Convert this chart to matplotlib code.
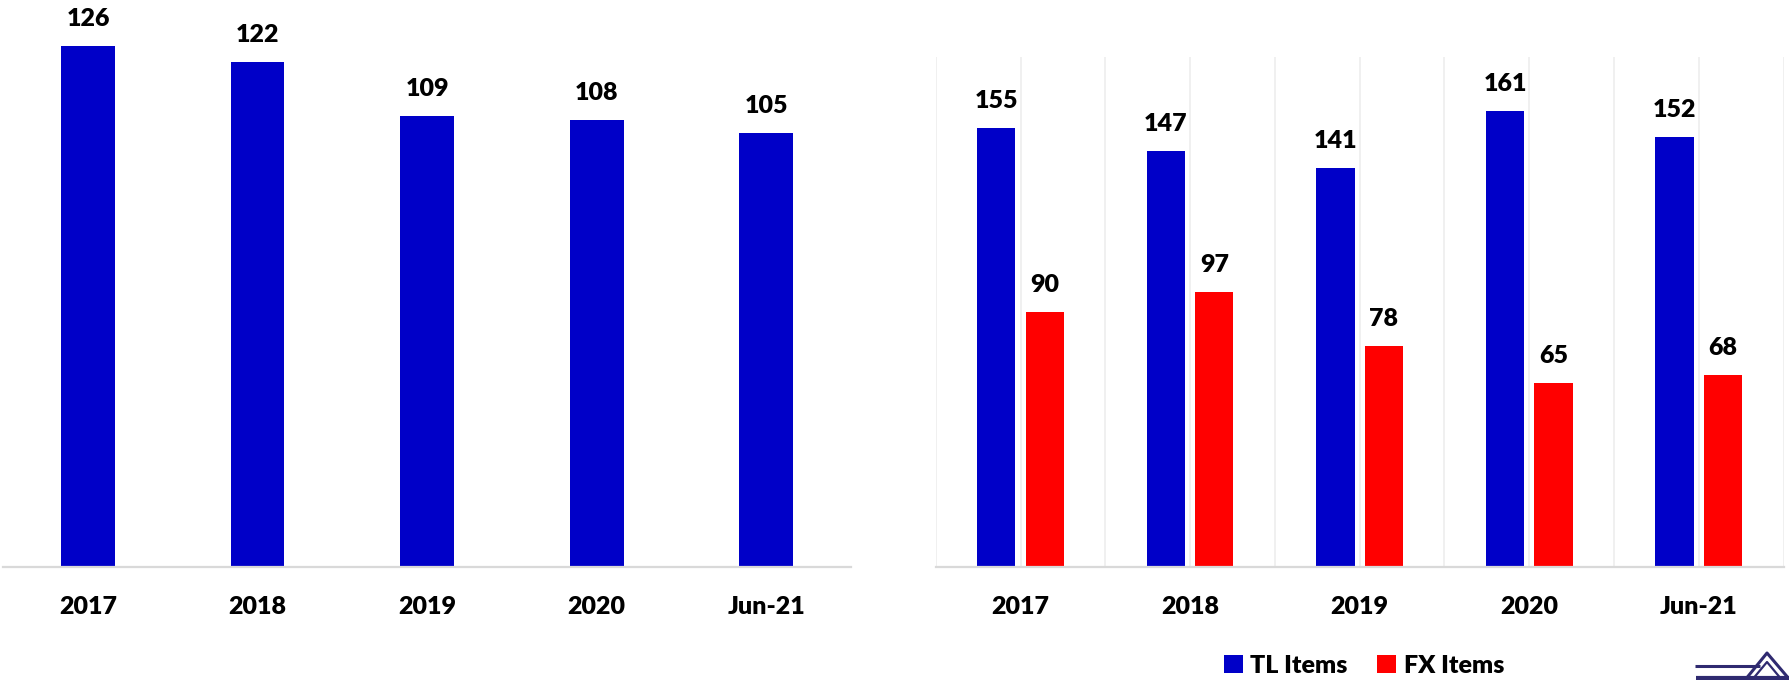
import matplotlib
matplotlib.use("Agg")
import matplotlib.pyplot as plt
from matplotlib.lines import Line2D
from matplotlib.patches import Patch
import numpy as np

categories = ["2017", "2018", "2019", "2020", "Jun-21"]
total_values = [126, 122, 109, 108, 105]
tl_items = [155, 147, 141, 161, 152]
fx_items = [90, 97, 78, 65, 68]
legend_labels = ["TL Items", "FX Items"]

BLUE = "#0000C8"
RED = "#FF0000"
AXIS_GREY = "#D9D9D9"
GRID_GREY = "#EDEDED"
WEIGHT = "heavy"

plt.rcParams["font.family"] = ["Lato", "DejaVu Sans"]
plt.rcParams["font.weight"] = WEIGHT

W, H = 1790, 680
fig = plt.figure(figsize=(W / 100, H / 100), dpi=100)

def px_axes(x0, x1, base_y, height_px):
    return fig.add_axes([x0 / W, (H - base_y) / H, (x1 - x0) / W, height_px / H])

FS = 18
x = np.arange(len(categories))

# Left chart
ax1 = px_axes(3.4, 851, 567.3, 130 * 4.14)
ax1.bar(x, total_values, width=0.316, color=BLUE, zorder=3)
ax1.set_xlim(-0.5, 4.5)
ax1.set_ylim(0, 130)
for xi, v in zip(x, total_values):
    ax1.annotate(str(v), (xi, v), xytext=(0, 14.4), textcoords="offset points",
                 ha="center", va="baseline", fontsize=FS, fontweight=WEIGHT,
                 annotation_clip=False)

# Right chart
ax2 = px_axes(935.8, 1783.6, 567.3, 180 * 2.834)
off, bw = 0.143, 0.225
ax2.bar(x - off, tl_items, width=bw, color=BLUE, zorder=3, label=legend_labels[0])
ax2.bar(x + off, fx_items, width=bw, color=RED, zorder=3, label=legend_labels[1])
ax2.set_xlim(-0.5, 4.5)
ax2.set_ylim(0, 180)
for xi, v in zip(x - off, tl_items):
    ax2.annotate(str(v), (xi, v), xytext=(0, 14.4), textcoords="offset points",
                 ha="center", va="baseline", fontsize=FS, fontweight=WEIGHT,
                 annotation_clip=False)
for xi, v in zip(x + off, fx_items):
    ax2.annotate(str(v), (xi, v), xytext=(0, 14.4), textcoords="offset points",
                 ha="center", va="baseline", fontsize=FS, fontweight=WEIGHT,
                 annotation_clip=False)
for gx in np.arange(-0.5, 4.6, 0.5):
    ax2.axvline(gx, color=GRID_GREY, lw=1.2, zorder=1)

for ax in (ax1, ax2):
    ax.set_xticks(x)
    ax.set_xticklabels(categories, fontsize=FS, fontweight=WEIGHT)
    ax.set_yticks([])
    for s in ("top", "right", "left"):
        ax.spines[s].set_visible(False)
    ax.spines["bottom"].set_color(AXIS_GREY)
    ax.spines["bottom"].set_linewidth(1.6)
    ax.spines["bottom"].set_zorder(4)
    ax.tick_params(axis="x", length=0, pad=21)
    ax.set_facecolor("none")

handles = [Patch(facecolor=BLUE), Patch(facecolor=RED)]
fig.legend(handles, legend_labels, loc="center", bbox_to_anchor=(1364 / W, 1 - 666 / H),
           ncol=2, frameon=False, prop={"weight": WEIGHT, "size": FS},
           handlelength=0.75, handleheight=0.75, handletextpad=0.3, columnspacing=1.2)

# small logo at bottom-right corner
LOGO = "#2F2A70"
def fl(xs, ys, lw):
    fig.add_artist(Line2D([a / W for a in xs], [1 - b / H for b in ys],
                          color=LOGO, lw=lw, solid_capstyle="butt"))
fl([1695, 1760], [666, 666], 2.2)
fl([1696, 1790], [677.5, 677.5], 3)
fl([1745, 1767, 1790], [680, 653, 680], 2.2)
fl([1752, 1767, 1782], [680, 662, 680], 1.6)

fig.savefig("out.png", dpi=100, facecolor="white")
